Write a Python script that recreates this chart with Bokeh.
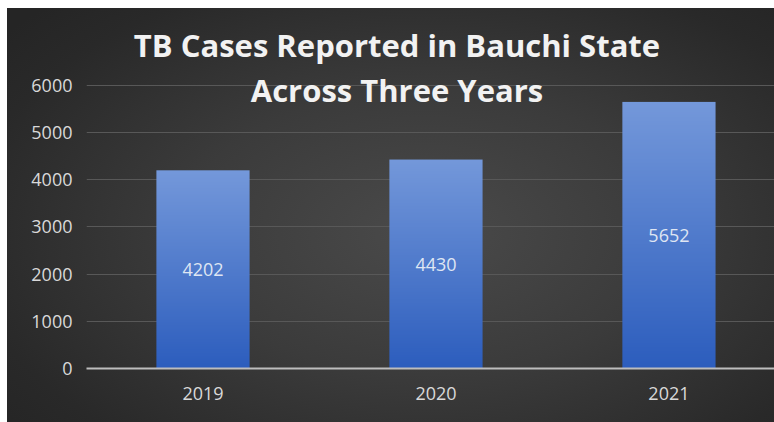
import numpy as np
from bokeh.plotting import figure
from bokeh.models import (ColumnDataSource, Range1d, FixedTicker, Label,
                          LinearColorMapper, InlineStyleSheet)
from bokeh.core.properties import value
from bokeh.embed import file_html
from bokeh.resources import INLINE

# ---- data ----
years = ["2019", "2020", "2021"]
cases = [4202, 4430, 5652]
y_ticks = [0, 1000, 2000, 3000, 4000, 5000, 6000]
title_line1 = "TB Cases Reported in Bauchi State"
title_line2 = "Across Three Years"

idx = list(range(len(years)))
bar_w = 0.4

p = figure(width=774, height=422, output_backend="svg", toolbar_location=None,
           x_range=Range1d(-0.5, 2.453), y_range=Range1d(0, 7802),
           min_border_left=86, min_border_right=0, min_border_top=0,
           min_border_bottom=54)
p.title = None
p.border_fill_color = None
p.background_fill_color = None
p.outline_line_color = None
p.stylesheets = [InlineStyleSheet(css=(
    ":host { background: "
    "linear-gradient(#ffffff, #ffffff) top left / 100% 8px no-repeat, "
    "linear-gradient(#ffffff, #ffffff) top left / 7px 100% no-repeat, "
    "radial-gradient(ellipse 70% 75% at 55% 55%, #4a4a4a 0%, #3b3b3b 45%, #292929 85%, #252525 100%); }"))]

# bars with vertical gradient
grad = np.linspace(0, 1, 256).reshape(256, 1)
bottom_c = np.array([0x2c, 0x5d, 0xbd])
top_c = np.array([0x74, 0x98, 0xda])
palette = ["#%02x%02x%02x" % tuple(int(round(v)) for v in bottom_c + (top_c - bottom_c) * t)
           for t in np.linspace(0, 1, 256)]
mapper = LinearColorMapper(palette=palette, low=0, high=1)
src = ColumnDataSource(dict(
    image=[grad] * len(years),
    x=[i - bar_w / 2 for i in idx],
    y=[0] * len(years),
    dw=[bar_w] * len(years),
    dh=cases,
))
p.image(image="image", x="x", y="y", dw="dw", dh="dh", color_mapper=mapper, source=src)

lab_src = ColumnDataSource(dict(x=idx, y=[c / 2 for c in cases], t=[str(c) for c in cases]))
p.text(x="x", y="y", text="t", source=lab_src, text_align="center", text_baseline="middle",
       text_font=value("Open Sans"), text_font_size="18px", text_color="#dfe6f3")

# axes
p.xaxis.ticker = FixedTicker(ticks=idx)
p.xaxis.major_label_overrides = {i: y for i, y in zip(idx, years)}
p.yaxis.ticker = FixedTicker(ticks=y_ticks)
for ax in (p.xaxis[0], p.yaxis[0]):
    ax.major_tick_line_color = None
    ax.minor_tick_line_color = None
    ax.major_label_text_font = "Open Sans"
    ax.major_label_text_font_size = "18px"
    ax.major_label_text_color = "#d9d9d9"
p.xaxis.axis_line_color = "#bdbdbd"
p.xaxis.axis_line_width = 2
p.xaxis.major_label_standoff = 12
p.yaxis.axis_line_color = None
p.yaxis.major_label_standoff = 8

p.xgrid.grid_line_color = None
p.ygrid.ticker = FixedTicker(ticks=y_ticks)
p.ygrid.grid_line_color = "#585858"
p.ygrid.grid_line_width = 1

# title lines (frame-relative screen units)
cx = 310.5
for txt, yy in ((title_line1, 324), (title_line2, 279)):
    p.add_layout(Label(x=cx, y=yy, x_units="screen", y_units="screen", text=txt,
                       text_align="center", text_baseline="alphabetic",
                       text_font="Open Sans", text_font_style="bold",
                       text_font_size="31px", text_color="#f2f2f2"))

open("out.html", "w").write(file_html(p, INLINE))
